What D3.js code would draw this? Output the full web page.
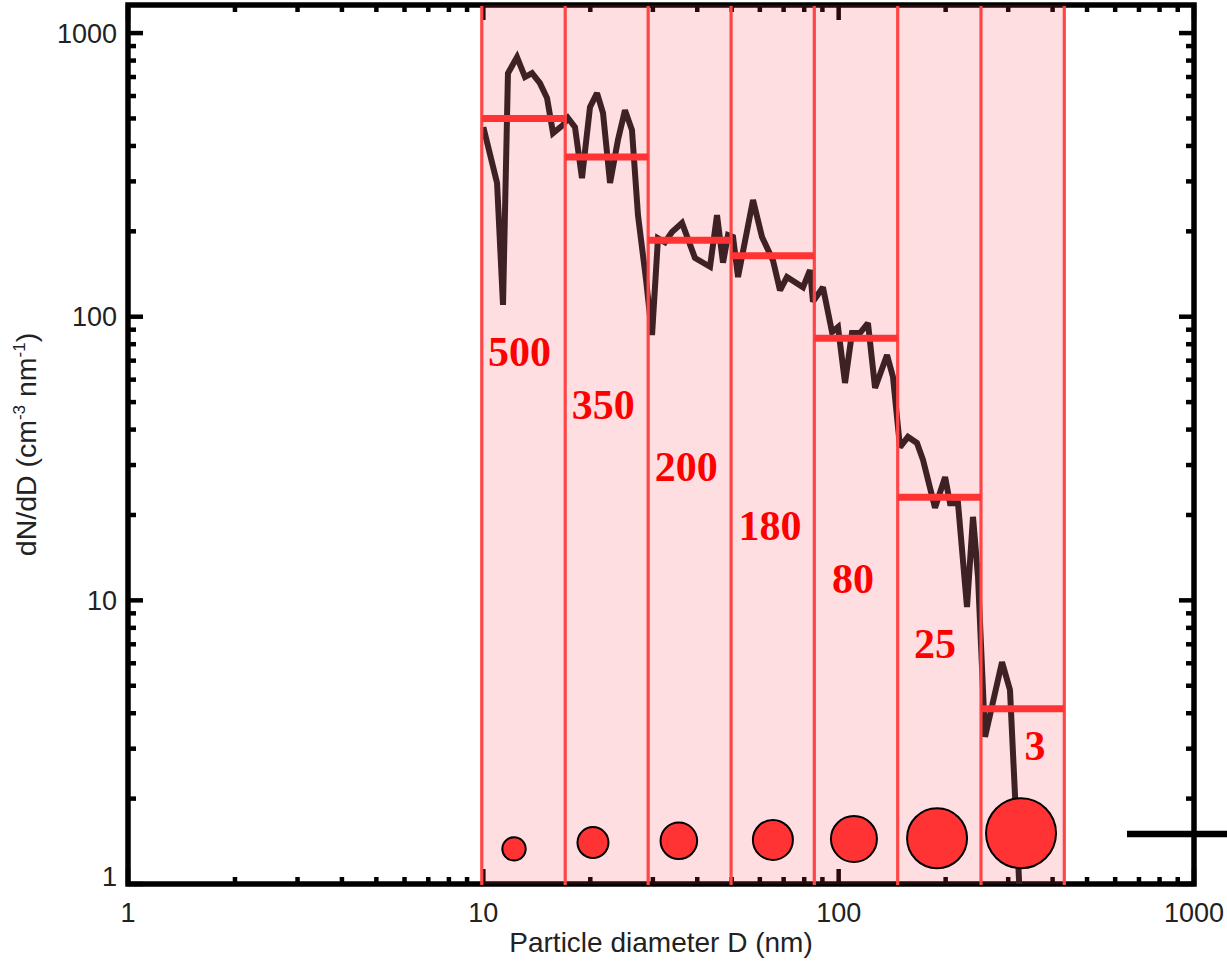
<!DOCTYPE html>
<html>
<head>
<meta charset="utf-8">
<script src="https://cdn.jsdelivr.net/npm/d3@7/dist/d3.min.js"></script>
<style>
html,body{margin:0;padding:0;background:#fff;}
svg{display:block;}
</style>
</head>
<body>
<div id="chart"></div>
<script>
// ---------------- data ----------------
const binEdges = [9.9, 17.0, 29.1, 49.8, 85.4, 146.6, 251.5, 431.5];
const binLevels = [500, 366, 186, 164, 84, 23.1, 4.15];
const binLabels = ["500", "350", "200", "180", "80", "25", "3"];
const labelD = [12.64, 21.76, 37.23, 64.09, 109.7, 186.7, 356.9];
const labelN = [67.0, 43.6, 26.3, 16.3, 10.6, 6.26, 2.74];

const curveD = [10.0, 10.93, 11.36, 11.73, 12.44, 13.10, 13.71, 14.43, 15.11, 15.71, 16.76,
  17.31, 18.11, 18.95, 19.96, 20.89, 21.72, 22.73, 23.93, 25.04, 26.20, 27.24, 28.70, 29.84,
  31.01, 32.45, 33.96, 36.24, 39.42, 43.45, 45.46, 47.26, 48.82, 50.43, 52.09, 57.41, 60.85,
  65.34, 68.37, 71.54, 79.36, 83.04, 84.67, 90.32, 95.78, 99.57, 104.2, 109.0, 114.8, 120.9,
  126.6, 136.8, 142.2, 148.8, 156.7, 166.1, 172.7, 186.7, 199.3, 205.8, 216.7, 229.7, 238.8,
  246.7, 258.2, 288.2, 303.5, 323.8];
const curveN = [466, 296, 110, 722, 823, 700, 722, 666, 590, 444, 474,
  502, 466, 308, 548, 614, 522, 296, 420, 535, 455, 228, 135, 86.2,
  189, 183, 199, 214, 161, 150, 228, 155, 194, 191, 138, 258, 191,
  158, 124, 138, 127, 146, 113, 127, 88.3, 91.9, 58.4, 87.6, 87.6, 95.0,
  56.1, 73.3, 61.3, 34.7, 37.7, 35.9, 31.3, 21.2, 27.2, 22.0, 22.0, 9.47, 19.7,
  12.1, 3.30, 6.06, 4.83, 0.878];

const circleD = [12.2, 20.35, 35.5, 65.3, 110.4, 189.2, 326.0];
const circleN = [1.33, 1.40, 1.42, 1.43, 1.44, 1.45, 1.51];
const circleSize = [11.7, 15.5, 18.3, 20.0, 23.0, 30.0, 35.0];

const markerFromD = [647.7];
const markerN = [1.5];

const xTicks = [1, 10, 100, 1000];
const xTickLabels = ["1", "10", "100", "1000"];
const yTicks = [1, 10, 100, 1000];
const yTickLabels = ["1", "10", "100", "1000"];

// ---------------- layout ----------------
const W = 1227, H = 962;
const L = 128, R = 1194, T = 5, B = 884;

const svg = d3.select("#chart").append("svg").attr("width", W).attr("height", H);
svg.append("rect").attr("width", W).attr("height", H).attr("fill", "#fff");

const x = d3.scaleLog().domain([1, 1000]).range([L, R]);
const y = d3.scaleLog().domain([1, 1256]).range([B, T]);

// minor ticks
const minor = [];
for (let dec = 1; dec < 1000; dec *= 10) for (let k = 2; k <= 9; k++) minor.push(dec * k);
const yMinor = minor.filter(v => v <= 1256);

const axisG = svg.append("g");
const tickCol = "#000";
yTicks.forEach(v => {
  axisG.append("line").attr("x1", L).attr("x2", L + 15).attr("y1", y(v)).attr("y2", y(v))
    .attr("stroke", tickCol).attr("stroke-width", 4.5);
  axisG.append("line").attr("x1", R).attr("x2", R - 15).attr("y1", y(v)).attr("y2", y(v))
    .attr("stroke", tickCol).attr("stroke-width", 4.5);
});
yMinor.forEach(v => {
  axisG.append("line").attr("x1", L).attr("x2", L + 8).attr("y1", y(v)).attr("y2", y(v))
    .attr("stroke", tickCol).attr("stroke-width", 4.5);
  axisG.append("line").attr("x1", R).attr("x2", R - 8).attr("y1", y(v)).attr("y2", y(v))
    .attr("stroke", tickCol).attr("stroke-width", 4.5);
});
xTicks.forEach(v => {
  axisG.append("line").attr("x1", x(v)).attr("x2", x(v)).attr("y1", B).attr("y2", B - 15)
    .attr("stroke", tickCol).attr("stroke-width", 4.5);
  axisG.append("line").attr("x1", x(v)).attr("x2", x(v)).attr("y1", T).attr("y2", T + 15)
    .attr("stroke", tickCol).attr("stroke-width", 4.5);
});
minor.forEach(v => {
  axisG.append("line").attr("x1", x(v)).attr("x2", x(v)).attr("y1", B).attr("y2", B - 7)
    .attr("stroke", tickCol).attr("stroke-width", 4.5);
  axisG.append("line").attr("x1", x(v)).attr("x2", x(v)).attr("y1", T).attr("y2", T + 7)
    .attr("stroke", tickCol).attr("stroke-width", 4.5);
});
axisG.append("rect").attr("x", L).attr("y", T).attr("width", R - L).attr("height", B - T)
  .attr("fill", "none").attr("stroke", "#000").attr("stroke-width", 5.5);

// tick labels
const tickFont = "'Liberation Sans', Arial, Helvetica, sans-serif";
svg.append("g").selectAll("text").data(xTicks).join("text")
  .attr("x", d => x(d)).attr("y", 922).attr("text-anchor", "middle")
  .attr("font-family", tickFont).attr("font-size", 27).attr("fill", "#222")
  .text((d, i) => xTickLabels[i]);
svg.append("g").selectAll("text").data(yTicks).join("text")
  .attr("x", 117).attr("y", d => y(d) + 9.5 - (d === 1 ? 8 : 0)).attr("text-anchor", "end")
  .attr("font-family", tickFont).attr("font-size", 27).attr("fill", "#222")
  .text((d, i) => yTickLabels[i]);

// axis titles
svg.append("text").attr("x", (L + R) / 2).attr("y", 952).attr("text-anchor", "middle")
  .attr("font-family", tickFont).attr("font-size", 28).attr("fill", "#222")
  .text("Particle diameter D (nm)");
const yt = svg.append("text").attr("transform", `translate(36,${(T + B) / 2}) rotate(-90)`)
  .attr("text-anchor", "middle").attr("font-family", tickFont).attr("font-size", 28.5).attr("fill", "#222");
yt.append("tspan").text("dN/dD (cm");
yt.append("tspan").attr("dy", -11).attr("font-size", 17).text("-3");
yt.append("tspan").attr("dy", 11).text(" nm");
yt.append("tspan").attr("dy", -11).attr("font-size", 17).text("-1");
yt.append("tspan").attr("dy", 11).text(")");

// bins
const bins = d3.range(binEdges.length - 1).map(i => ({
  x0: binEdges[i], x1: binEdges[i + 1], level: binLevels[i], label: binLabels[i],
  lx: labelD[i], ly: labelN[i], cx: circleD[i], cy: circleN[i], r: circleSize[i]
}));

svg.append("g").selectAll("rect").data(bins).join("rect")
  .attr("x", d => x(d.x0)).attr("width", d => x(d.x1) - x(d.x0))
  .attr("y", T).attr("height", B - T)
  .attr("fill", "#ff3344").attr("fill-opacity", 0.16);

// curve
const clip = svg.append("clipPath").attr("id", "clip");
clip.append("rect").attr("x", L).attr("y", T).attr("width", R - L).attr("height", B - T);
const line = d3.line().x(d => x(d[0])).y(d => y(d[1]));
svg.append("path").datum(curveD.map((d, i) => [d, curveN[i]]))
  .attr("clip-path", "url(#clip)")
  .attr("d", line).attr("fill", "none").attr("stroke", "#3e2125")
  .attr("stroke-width", 6).attr("stroke-linejoin", "miter").attr("stroke-miterlimit", 2.5);

// vertical bin lines
svg.append("g").selectAll("line").data(binEdges).join("line")
  .attr("x1", d => x(d)).attr("x2", d => x(d)).attr("y1", T + 1).attr("y2", B + 1)
  .attr("stroke", "#ff4646").attr("stroke-width", 3.2);

// level lines
svg.append("g").selectAll("line").data(bins).join("line")
  .attr("x1", d => x(d.x0)).attr("x2", d => x(d.x1)).attr("y1", d => y(d.level)).attr("y2", d => y(d.level))
  .attr("stroke", "#ff3333").attr("stroke-width", 7);

// labels
svg.append("g").selectAll("text").data(bins).join("text")
  .attr("x", d => x(d.lx)).attr("y", d => y(d.ly)).attr("text-anchor", "middle")
  .attr("font-family", "'Liberation Serif', 'Times New Roman', serif").attr("font-weight", "bold")
  .attr("font-size", 42).attr("fill", "#ff0000")
  .text(d => d.label);

// circles
svg.append("g").selectAll("circle").data(bins).join("circle")
  .attr("cx", d => x(d.cx)).attr("cy", d => y(d.cy)).attr("r", d => d.r)
  .attr("fill", "#ff3333").attr("stroke", "#000").attr("stroke-width", 2);

// black marker line at right
svg.append("line").attr("x1", x(markerFromD[0])).attr("x2", W)
  .attr("y1", y(markerN[0])).attr("y2", y(markerN[0]))
  .attr("stroke", "#000").attr("stroke-width", 6.5);
</script>
</body>
</html>
